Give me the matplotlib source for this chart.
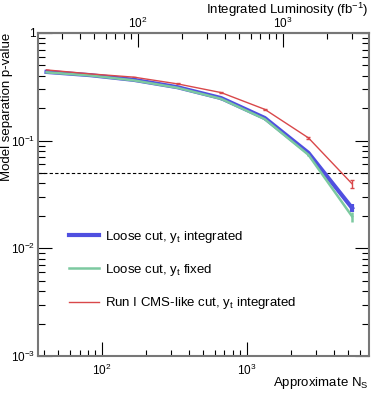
import matplotlib
matplotlib.use("Agg")
import matplotlib.pyplot as plt
from matplotlib.lines import Line2D

plt.rcParams['font.family'] = ['Liberation Sans', 'DejaVu Sans']
plt.rcParams['mathtext.fontset'] = 'custom'
plt.rcParams['mathtext.rm'] = 'Liberation Sans'
plt.rcParams['mathtext.it'] = 'Liberation Sans'

# luminosity points (fb^-1) and N_S / L conversion
lumi = [23.4, 46.9, 93.8, 187.5, 375, 750, 1500, 3000]
ns_per_fb = 1.77
n_s = [l * ns_per_fb for l in lumi]

p_loose_int = [0.434, 0.405, 0.366, 0.313, 0.248, 0.162, 0.0769, 0.0237]
e_loose_int = [0.004, 0.004, 0.004, 0.004, 0.004, 0.003, 0.002, 0.002]
p_loose_fix = [0.430, 0.402, 0.362, 0.309, 0.244, 0.158, 0.0738, 0.0198]
e_loose_fix = [0.004, 0.004, 0.004, 0.004, 0.004, 0.003, 0.002, 0.0021]
p_cms = [0.453, 0.416, 0.388, 0.336, 0.279, 0.195, 0.106, 0.0397]
e_cms = [0.003, 0.003, 0.003, 0.003, 0.003, 0.003, 0.003, 0.0035]

labels = [r'Loose cut, $\mathregular{y_{t}}$ integrated',
          r'Loose cut, $\mathregular{y_{t}}$ fixed',
          r'Run I CMS-like cut, $\mathregular{y_{t}}$ integrated']
colors = ['#4f4fe0', '#7cc9a0', '#d9484a']
widths = [3, 1.8, 1.0]
p_thresh = 0.05

yticks = [1e-3, 1e-2, 1e-1, 1]
ytick_labels = [r'$\mathregular{10^{-3}}$', r'$\mathregular{10^{-2}}$',
                r'$\mathregular{10^{-1}}$', '1']

fig = plt.figure(figsize=(3.73, 3.96), dpi=100)
ax = fig.add_axes([0.102, 0.101, 0.887, 0.816])

ax.set_xscale('log')
ax.set_yscale('log')

ax.axhline(p_thresh, color='black', ls=(0, (3, 2)), lw=0.8)

ax.errorbar(n_s, p_loose_int, yerr=e_loose_int, color=colors[0], lw=widths[0],
            capsize=0)
ax.errorbar(n_s, p_loose_fix, yerr=e_loose_fix, color=colors[1], lw=widths[1],
            capsize=0)
ax.errorbar(n_s, p_cms, yerr=e_cms, color=colors[2], lw=widths[2],
            capsize=1.5, capthick=1)

ax.set_xlim(36.2, 6940)
ax.set_ylim(1e-3, 1)
ax.set_yticks(yticks)
ax.set_yticklabels(ytick_labels)

for s in ax.spines.values():
    s.set_color('#777777')
    s.set_linewidth(1.5)

ax.tick_params(which='major', direction='in', length=10, width=0.8,
               labelsize=8.5, right=True, top=False)
ax.tick_params(which='minor', direction='in', length=5, width=0.8,
               right=True, top=False)
ax.tick_params(axis='x', which='minor', length=4)
ax.tick_params(axis='x', which='major', pad=5)
ax.tick_params(axis='y', which='major', pad=2)

sec = ax.secondary_xaxis('top', functions=(lambda n: n / ns_per_fb,
                                           lambda l: l * ns_per_fb))
sec.spines['top'].set_color('#777777')
sec.spines['top'].set_linewidth(1.5)
sec.tick_params(which='major', direction='in', length=10, width=0.8,
                labelsize=8.5, pad=1)
sec.tick_params(which='minor', direction='in', length=4, width=0.8)

fig.text(0.989, 0.025, r'Approximate $\mathregular{N_{S}}$', ha='right',
         va='baseline', fontsize=9.5)
fig.text(0.989, 0.965, r'Integrated Luminosity (fb$\mathregular{^{-1}}$)',
         ha='right', va='baseline', fontsize=9.5)
fig.text(0.004, 0.917, 'Model separation p-value', rotation=90,
         ha='left', va='top', fontsize=9.5)

handles = [Line2D([], [], color=c, lw=w) for c, w in zip(colors, widths)]
ax.legend(handles, labels, loc='upper left', bbox_to_anchor=(0.058, 0.43),
          frameon=False, fontsize=9.5, handlelength=2.3, handletextpad=0.45,
          labelspacing=1.3)

fig.savefig('out.png', dpi=100)
